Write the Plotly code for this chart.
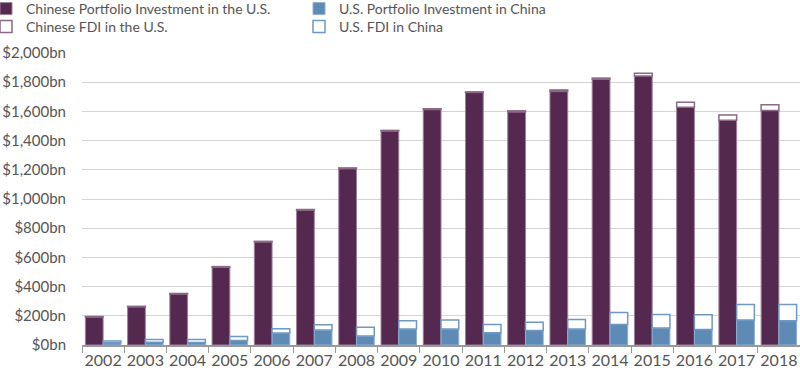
import plotly.graph_objects as go

years = [str(y) for y in range(2002, 2019)]
cn_portfolio = [192, 262, 350, 533, 706, 924, 1208, 1466, 1613, 1730, 1597, 1737, 1820, 1843, 1629, 1539, 1606]
cn_fdi = [3, 3, 3, 4, 4, 4, 5, 4, 5, 4, 7, 10, 8, 18, 34, 36, 39]
us_portfolio = [15, 19, 17, 31, 82, 102, 61, 109, 109, 84, 100, 109, 141, 116, 107, 171, 166]
us_fdi = [13, 18, 21, 27, 29, 37, 60, 57, 62, 57, 55, 66, 82, 93, 100, 107, 112]

y_ticks = [0, 200, 400, 600, 800, 1000, 1200, 1400, 1600, 1800, 2000]
y_tick_labels = ["$0bn", "$200bn", "$400bn", "$600bn", "$800bn", "$1,000bn",
                 "$1,200bn", "$1,400bn", "$1,600bn", "$1,800bn", "$2,000bn"]

PURPLE = "#55284f"
PURPLE_EDGE = "#9c819a"
BLUE = "#5e8ab6"
BLUE_EDGE = "#8fb0d2"
FONT = "Lato"
TEXT = "#555555"

fig = go.Figure()
fig.add_trace(go.Bar(
    name="Chinese Portfolio Investment in the U.S.", x=years, y=cn_portfolio,
    offsetgroup="cn", marker=dict(color=PURPLE, line=dict(color=PURPLE_EDGE, width=1)),
    legend="legend", showlegend=True))
fig.add_trace(go.Bar(
    name="U.S. Portfolio Investment in China", x=years, y=us_portfolio,
    offsetgroup="us", marker=dict(color=BLUE, line=dict(color=BLUE_EDGE, width=1)),
    legend="legend2", showlegend=True))
fig.add_trace(go.Bar(
    name="Chinese FDI in the U.S.", x=years, y=cn_fdi, base=cn_portfolio,
    offsetgroup="cn", marker=dict(color="white", line=dict(color="#8a6886", width=1.5)),
    legend="legend3", showlegend=True))
fig.add_trace(go.Bar(
    name="U.S. FDI in China", x=years, y=us_fdi, base=us_portfolio,
    offsetgroup="us", marker=dict(color="white", line=dict(color="#6f98c2", width=1.5)),
    legend="legend4", showlegend=True))

PLOT_L = 82
PLOT_W = 800 - PLOT_L
col1_x = (-14 - PLOT_L) / PLOT_W
col2_x = (313 - 14 - PLOT_L) / PLOT_W
row1_y = 1 - 9 / 376
row2_y = 1 - 27 / 376

legend_common = dict(
    orientation="v", xref="paper", yref="container",
    xanchor="left", yanchor="middle",
    font=dict(family=FONT, size=14, color=TEXT),
    itemwidth=30, bgcolor="rgba(0,0,0,0)",
)

fig.update_layout(
    width=800, height=376,
    showlegend=True,
    margin=dict(l=PLOT_L, r=0, t=53, b=31, pad=0, autoexpand=False),
    barmode="group", bargap=0.16, bargroupgap=0,
    plot_bgcolor="white", paper_bgcolor="white",
    font=dict(family=FONT, size=15, color=TEXT),
    legend=dict(legend_common, x=col1_x, y=row1_y),
    legend2=dict(legend_common, x=col2_x, y=row1_y),
    legend3=dict(legend_common, x=col1_x, y=row2_y),
    legend4=dict(legend_common, x=col2_x, y=row2_y),
    xaxis=dict(
        type="category", tickson="boundaries", ticks="outside", ticklen=6,
        tickcolor="#999999", showline=True, linecolor="#999999", linewidth=1.5,
        showgrid=False, tickangle=0, tickfont=dict(size=16, color=TEXT),
    ),
    yaxis=dict(
        range=[0, 2000], tickvals=y_ticks, ticktext=y_tick_labels,
        showgrid=True, gridcolor="#d4d4d4", gridwidth=1.2, zeroline=False,
        showline=False, ticks="", ticklabelstandoff=15,
        tickfont=dict(size=15, color=TEXT),
    ),
)

fig.write_html("out.html", config={"displayModeBar": False},
               post_script="document.body.style.margin='0';")
